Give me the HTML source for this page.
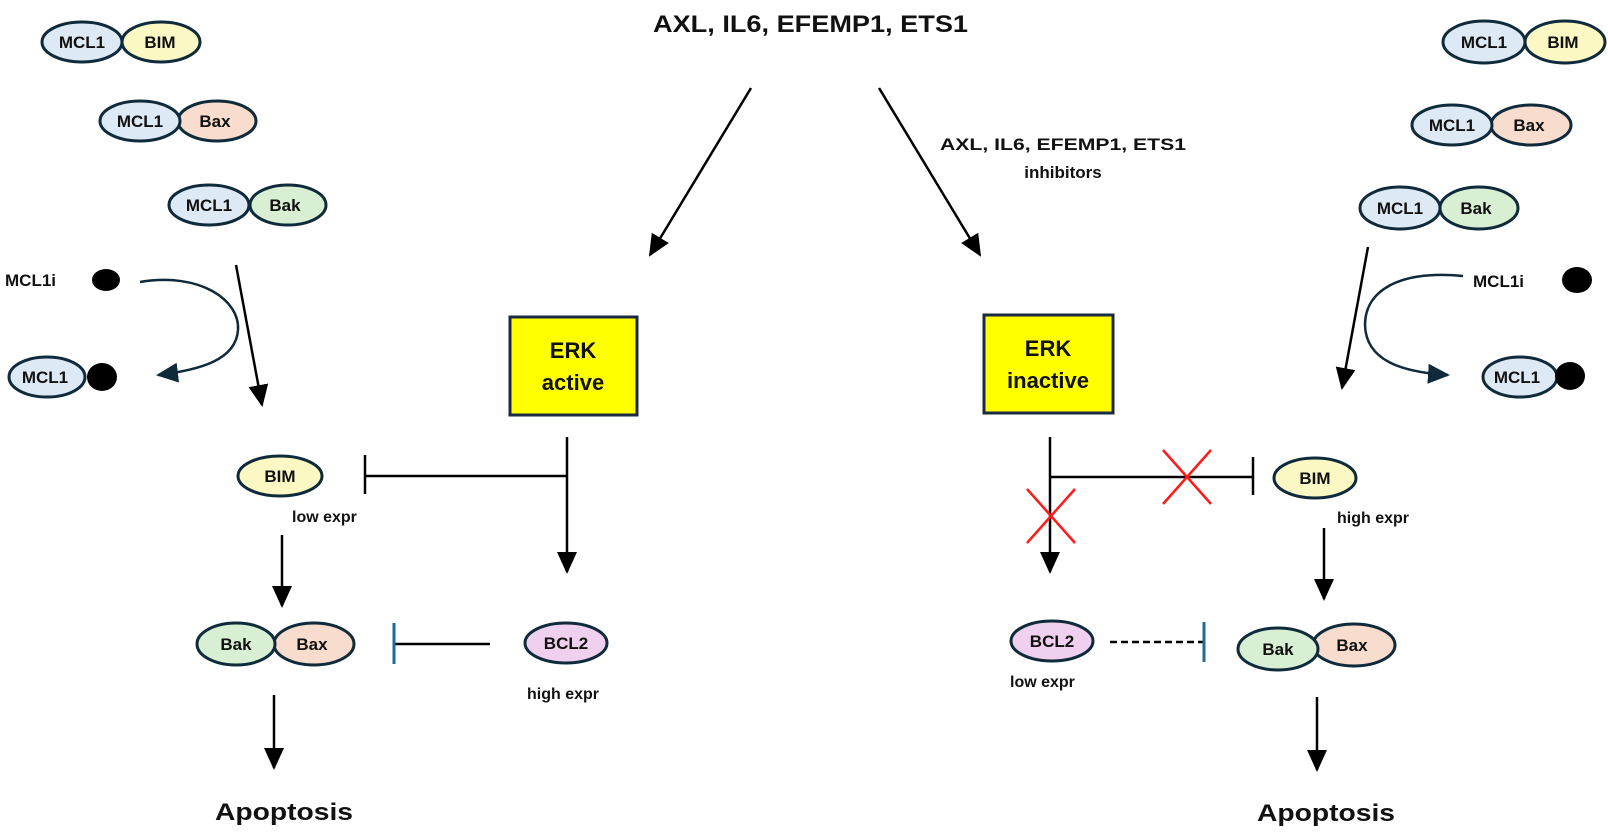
<!DOCTYPE html>
<html><head><meta charset="utf-8"><style>
html,body{margin:0;padding:0;background:#fff;}
svg{display:block;}
text{font-family:"Liberation Sans","DejaVu Sans",sans-serif;font-weight:bold;fill:#111;}
.e{stroke:#0f2a3a;stroke-width:3;}
.l{stroke:#000;stroke-width:2.5;fill:none;}
.t{font-size:17px;text-anchor:middle;}
</style></head><body>
<svg width="1608" height="833" viewBox="0 0 1608 833" xmlns="http://www.w3.org/2000/svg">
<defs>
<marker id="a" markerWidth="10" markerHeight="10" refX="9" refY="5" orient="auto" markerUnits="userSpaceOnUse" viewBox="0 0 10 10"><path d="M0,0 L10,5 L0,10 z" fill="#000"/></marker>
<marker id="ab" markerWidth="22" markerHeight="22" refX="20" refY="11" orient="auto" markerUnits="userSpaceOnUse" viewBox="0 0 22 22"><path d="M0,1 L22,11 L0,21 z" fill="#000"/></marker>
<marker id="ad" markerWidth="22" markerHeight="22" refX="20" refY="11" orient="auto" markerUnits="userSpaceOnUse" viewBox="0 0 22 22"><path d="M0,1 L22,11 L0,21 z" fill="#0f2a3a"/></marker>
</defs>

<!-- Title -->
<text x="653" y="32" font-size="24" textLength="315" lengthAdjust="spacingAndGlyphs">AXL, IL6, EFEMP1, ETS1</text>
<line class="l" x1="751" y1="88" x2="650" y2="255" marker-end="url(#ab)"/>
<line class="l" x1="879" y1="88" x2="980" y2="255" marker-end="url(#ab)"/>
<text x="940" y="150" font-size="17" textLength="246" lengthAdjust="spacingAndGlyphs">AXL, IL6, EFEMP1, ETS1</text>
<text x="1063" y="178" font-size="17" text-anchor="middle">inhibitors</text>

<!-- ERK boxes -->
<rect x="510" y="317" width="127" height="98" fill="#ffff00" stroke="#1a2a44" stroke-width="3"/>
<text x="573" y="358" font-size="22" text-anchor="middle">ERK</text>
<text x="573" y="390" font-size="22" text-anchor="middle">active</text>
<rect x="984" y="315" width="129" height="98" fill="#ffff00" stroke="#1a2a44" stroke-width="3"/>
<text x="1048" y="356" font-size="22" text-anchor="middle">ERK</text>
<text x="1048" y="388" font-size="22" text-anchor="middle">inactive</text>

<!-- LEFT top complexes -->
<ellipse class="e" cx="161" cy="42" rx="39" ry="20" fill="#fbf8c4"/>
<ellipse class="e" cx="82" cy="42" rx="40" ry="20" fill="#dde9f5"/>
<text class="t" x="82" y="48">MCL1</text><text class="t" x="160" y="48">BIM</text>

<ellipse class="e" cx="217" cy="121" rx="39" ry="20" fill="#f8dccd"/>
<ellipse class="e" cx="140" cy="121" rx="40" ry="20" fill="#dde9f5"/>
<text class="t" x="140" y="127">MCL1</text><text class="t" x="215" y="127">Bax</text>

<ellipse class="e" cx="288" cy="205" rx="38" ry="20" fill="#d8efd3"/>
<ellipse class="e" cx="209" cy="205" rx="40" ry="20" fill="#dde9f5"/>
<text class="t" x="209" y="211">MCL1</text><text class="t" x="285" y="211">Bak</text>

<text x="5" y="286" font-size="17">MCL1i</text>
<ellipse cx="106" cy="280" rx="14" ry="11" fill="#000"/>
<path d="M140,282 C200,272 240,300 238,330 C236,360 200,370 158,375" fill="none" stroke="#0f2a3a" stroke-width="2.5" marker-end="url(#ad)"/>
<line class="l" x1="236" y1="265" x2="262" y2="405" marker-end="url(#ab)"/>
<ellipse class="e" cx="47" cy="377" rx="38" ry="20" fill="#dde9f5"/>
<text class="t" x="45" y="383">MCL1</text>
<ellipse cx="102" cy="377" rx="15" ry="14" fill="#000"/>

<!-- LEFT pathway -->
<line class="l" x1="567" y1="437" x2="567" y2="572" marker-end="url(#ab)"/>
<line class="l" x1="567" y1="476" x2="365" y2="476"/>
<line class="l" x1="365" y1="455" x2="365" y2="494"/>
<ellipse class="e" cx="280" cy="476" rx="42" ry="20" fill="#fbf8c4"/>
<text class="t" x="280" y="482">BIM</text>
<text x="292" y="522" font-size="16">low expr</text>
<line class="l" x1="282" y1="535" x2="282" y2="606" marker-end="url(#ab)"/>
<ellipse class="e" cx="314" cy="644" rx="40" ry="21" fill="#f8dccd"/>
<ellipse class="e" cx="236" cy="644" rx="39" ry="21" fill="#d8efd3"/>
<text class="t" x="236" y="650">Bak</text><text class="t" x="312" y="650">Bax</text>
<line class="l" x1="490" y1="644" x2="394" y2="644"/>
<line x1="394" y1="623" x2="394" y2="664" stroke="#1c6e96" stroke-width="3"/>
<ellipse class="e" cx="566" cy="643" rx="41" ry="20" fill="#f0d0ef"/>
<text class="t" x="566" y="649">BCL2</text>
<text x="527" y="699" font-size="16">high expr</text>
<line class="l" x1="274" y1="695" x2="274" y2="768" marker-end="url(#ab)"/>
<text x="215" y="820" font-size="24" textLength="138" lengthAdjust="spacingAndGlyphs">Apoptosis</text>

<!-- RIGHT top complexes -->
<ellipse class="e" cx="1565" cy="42" rx="40" ry="21" fill="#fbf8c4"/>
<ellipse class="e" cx="1484" cy="42" rx="41" ry="21" fill="#dde9f5"/>
<text class="t" x="1484" y="48">MCL1</text><text class="t" x="1563" y="48">BIM</text>

<ellipse class="e" cx="1531" cy="125" rx="40" ry="20" fill="#f8dccd"/>
<ellipse class="e" cx="1452" cy="125" rx="40" ry="20" fill="#dde9f5"/>
<text class="t" x="1452" y="131">MCL1</text><text class="t" x="1529" y="131">Bax</text>

<ellipse class="e" cx="1479" cy="208" rx="39" ry="21" fill="#d8efd3"/>
<ellipse class="e" cx="1400" cy="208" rx="40" ry="21" fill="#dde9f5"/>
<text class="t" x="1400" y="214">MCL1</text><text class="t" x="1476" y="214">Bak</text>

<text x="1473" y="287" font-size="17">MCL1i</text>
<ellipse cx="1577" cy="280" rx="15" ry="13" fill="#000"/>
<path d="M1463,276 C1400,270 1365,290 1365,325 C1366,360 1400,372 1448,375" fill="none" stroke="#0f2a3a" stroke-width="2.5" marker-end="url(#ad)"/>
<line class="l" x1="1368" y1="247" x2="1342" y2="388" marker-end="url(#ab)"/>
<ellipse class="e" cx="1520" cy="377" rx="37" ry="20" fill="#dde9f5"/>
<text class="t" x="1517" y="383">MCL1</text>
<ellipse cx="1570" cy="376" rx="15" ry="14" fill="#000"/>

<!-- RIGHT pathway -->
<line class="l" x1="1050" y1="437" x2="1050" y2="572" marker-end="url(#ab)"/>
<line class="l" x1="1050" y1="477" x2="1253" y2="477"/>
<line class="l" x1="1253" y1="457" x2="1253" y2="495"/>
<g stroke="#ff1a1a" stroke-width="2.5">
<line x1="1163" y1="450" x2="1211" y2="504"/><line x1="1211" y1="450" x2="1163" y2="504"/>
<line x1="1027" y1="489" x2="1075" y2="543"/><line x1="1075" y1="489" x2="1027" y2="543"/>
</g>
<ellipse class="e" cx="1315" cy="478" rx="41" ry="20" fill="#fbf8c4"/>
<text class="t" x="1315" y="484">BIM</text>
<text x="1337" y="523" font-size="16">high expr</text>
<line class="l" x1="1324" y1="528" x2="1324" y2="599" marker-end="url(#ab)"/>
<ellipse class="e" cx="1052" cy="641" rx="41" ry="20" fill="#f0d0ef"/>
<text class="t" x="1052" y="647">BCL2</text>
<text x="1010" y="687" font-size="16">low expr</text>
<line x1="1110" y1="642" x2="1203" y2="642" stroke="#000" stroke-width="2.5" stroke-dasharray="7,4"/>
<line x1="1204" y1="622" x2="1204" y2="662" stroke="#1c6e96" stroke-width="3"/>
<ellipse class="e" cx="1354" cy="645" rx="41" ry="21" fill="#f8dccd"/>
<ellipse class="e" cx="1278" cy="649" rx="40" ry="21" fill="#d8efd3"/>
<text class="t" x="1278" y="655">Bak</text><text class="t" x="1352" y="651">Bax</text>
<line class="l" x1="1317" y1="697" x2="1317" y2="770" marker-end="url(#ab)"/>
<text x="1257" y="821" font-size="24" textLength="138" lengthAdjust="spacingAndGlyphs">Apoptosis</text>
</svg>
</body></html>
